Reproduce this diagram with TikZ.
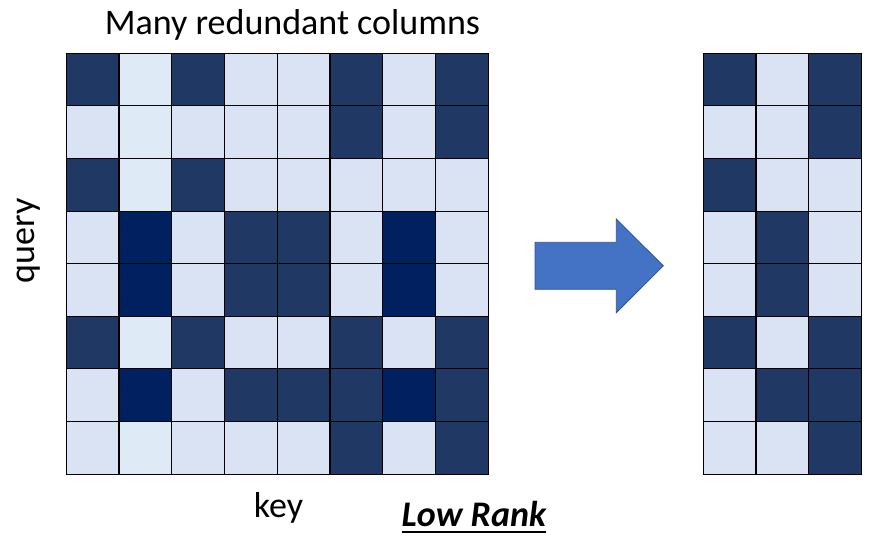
\documentclass[tikz,border=0pt]{standalone}
\usepackage{fontspec}
\setmainfont{Carlito}
\definecolor{dk}{HTML}{203864}
\definecolor{vd}{HTML}{002060}
\definecolor{lt}{HTML}{DAE3F3}
\definecolor{pl}{HTML}{DEEBF7}
\definecolor{arrowfill}{HTML}{4472C4}
\definecolor{arrowline}{HTML}{2F528F}
\tikzset{
  cell/.style={draw=black,line width=1.1pt,minimum size=52.7pt,inner sep=0pt,outer sep=0pt,anchor=north west},
  lbl/.style={font=\fontsize{36}{40}\selectfont,inner sep=0pt}
}
\begin{document}
\begin{tikzpicture}[x=1pt,y=-1pt]
\useasboundingbox (0,0) rectangle (888,543);
% left grid
\foreach \r/\cols in {1/{dk,pl,dk,lt,lt,dk,lt,dk},2/{lt,pl,lt,lt,lt,dk,lt,dk},3/{dk,pl,dk,lt,lt,lt,lt,lt},4/{lt,vd,lt,dk,dk,lt,vd,lt},5/{lt,vd,lt,dk,dk,lt,vd,lt},6/{dk,pl,dk,lt,lt,dk,lt,dk},7/{lt,vd,lt,dk,dk,dk,vd,dk},8/{lt,pl,lt,lt,lt,dk,lt,dk}}{
  \foreach \c [count=\k] in \cols {
    \node[cell,fill=\c] (L-\r-\k) at ({66.3+(\k-1)*52.75},{53.3+(\r-1)*52.6}) {};
  }
}
% right grid
\foreach \r/\cols in {1/{dk,lt,dk},2/{lt,lt,dk},3/{dk,lt,lt},4/{lt,dk,lt},5/{lt,dk,lt},6/{dk,lt,dk},7/{lt,dk,dk},8/{lt,lt,dk}}{
  \foreach \c [count=\k] in \cols {
    \node[cell,fill=\c] (R-\r-\k) at ({703.3+(\k-1)*52.67},{53.3+(\r-1)*52.6}) {};
  }
}
% arrow
\draw[fill=arrowfill,draw=arrowline,line width=0.8pt,line join=miter] (535,242.3) -- (616.3,242.3) -- (616.3,219) -- (663.3,265.8) -- (616.3,312.7) -- (616.3,289.3) -- (535,289.3) -- cycle;
% texts
\node[lbl,anchor=base] (title) at (292.5,35) {Many redundant columns};
\node[lbl,rotate=90] (query) at (29,241) {query};
\node[lbl,anchor=base] (key) at (278.5,517) {key};
\node[lbl,anchor=base,font=\fontsize{36}{40}\selectfont\bfseries\itshape] (lr) at (474,526) {Low Rank};
\draw[line width=2.2pt] ([yshift=-6pt]lr.base west) -- ([yshift=-6pt]lr.base east);
\end{tikzpicture}
\end{document}
